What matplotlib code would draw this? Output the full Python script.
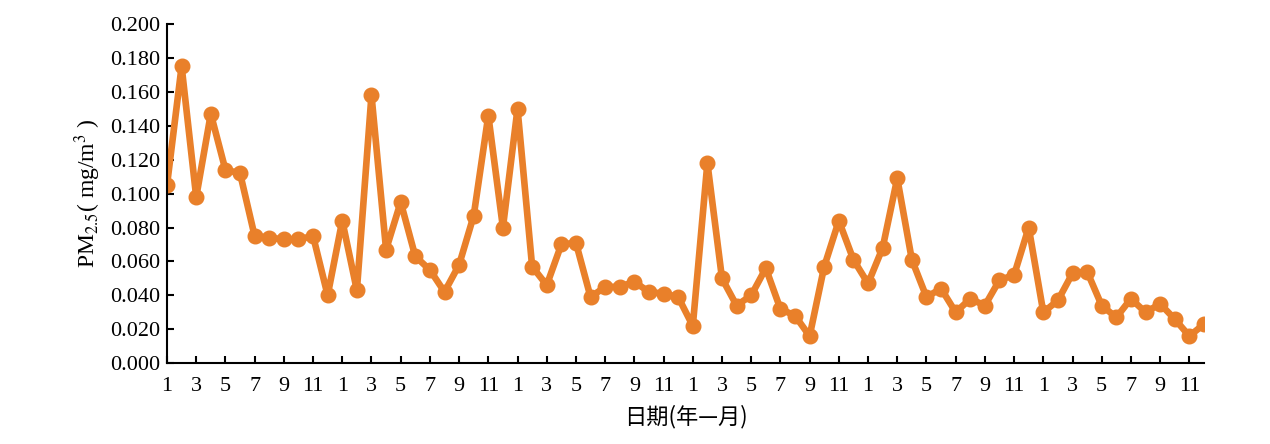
import matplotlib
matplotlib.use("Agg")
import matplotlib.pyplot as plt
from matplotlib.ticker import FormatStrFormatter

plt.rcParams['font.family'] = ['Liberation Serif', 'Noto Sans CJK SC', 'DejaVu Sans']
plt.rcParams['mathtext.fontset'] = 'stix'

# monthly PM2.5 values, 6 years x 12 months
pm25 = [0.105, 0.175, 0.098, 0.147, 0.114, 0.112, 0.075, 0.074, 0.073, 0.073, 0.075, 0.040,
        0.084, 0.043, 0.158, 0.067, 0.095, 0.063, 0.055, 0.042, 0.058, 0.087, 0.146, 0.080,
        0.150, 0.057, 0.046, 0.070, 0.071, 0.039, 0.045, 0.045, 0.048, 0.042, 0.041, 0.039,
        0.022, 0.118, 0.050, 0.034, 0.040, 0.056, 0.032, 0.028, 0.016, 0.057, 0.084, 0.061,
        0.047, 0.068, 0.109, 0.061, 0.039, 0.044, 0.030, 0.038, 0.034, 0.049, 0.052, 0.080,
        0.030, 0.037, 0.053, 0.054, 0.034, 0.027, 0.038, 0.030, 0.035, 0.026, 0.016, 0.023]
x = list(range(1, len(pm25) + 1))
tick_pos = list(range(1, len(pm25) + 1, 2))
tick_labels = [str((p - 1) % 12 + 1) for p in tick_pos]

fig = plt.figure(figsize=(12.7, 4.44), dpi=100)
ax = fig.add_axes([0.1315, 0.182, 0.8165, 0.764])

ax.plot(x, pm25, color='#E9802A', linewidth=4.8, marker='o', markersize=10.5)

ax.set_xlim(1, len(pm25))
ax.set_ylim(0, 0.2)
ax.set_yticks([i * 0.02 for i in range(11)])
ax.yaxis.set_major_formatter(FormatStrFormatter('%.3f'))
ax.set_xticks(tick_pos)
ax.set_xticklabels(tick_labels)

for s in ['top', 'right']:
    ax.spines[s].set_visible(False)
for s in ['left', 'bottom']:
    ax.spines[s].set_linewidth(1.5)

ax.tick_params(axis='both', direction='in', length=5, width=1.5, labelsize=16)
ax.tick_params(axis='x', pad=10)
ax.tick_params(axis='y', pad=5)

ax.set_ylabel('PM$_{2.5}$( mg/m$^3$ )', fontsize=17, labelpad=5)
ax.set_xlabel('日期(年—月)', fontsize=16, family=['Noto Sans CJK SC'], labelpad=6)

fig.savefig('out.png', dpi=100)
